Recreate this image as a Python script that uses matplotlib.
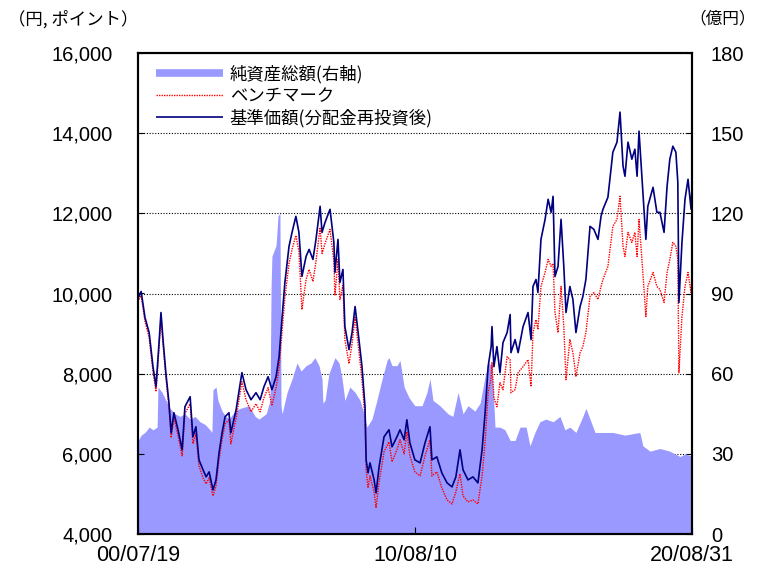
import matplotlib
matplotlib.use('Agg')
import matplotlib.pyplot as plt
from matplotlib.lines import Line2D
from matplotlib.ticker import FuncFormatter
import datetime as dt

plt.rcParams['font.family'] = ['Liberation Sans', 'Noto Sans CJK JP']

# ---------------- data ----------------
# time points as fractional years
line_t = [2000.58, 2000.66, 2000.80, 2000.95, 2001.09, 2001.20, 2001.31, 2001.38, 2001.46, 2001.56,
          2001.67, 2001.75, 2001.85, 2002.00, 2002.15, 2002.25, 2002.44, 2002.54, 2002.65, 2002.76,
          2002.91, 2003.02, 2003.13, 2003.27, 2003.38, 2003.49, 2003.60, 2003.71, 2003.85, 2003.92,
          2004.11, 2004.32, 2004.47, 2004.65, 2004.83, 2004.98, 2005.12, 2005.27, 2005.41, 2005.56,
          2005.67, 2005.78, 2005.88, 2006.03, 2006.14, 2006.28, 2006.39, 2006.50, 2006.65, 2006.76,
          2006.90, 2007.01, 2007.16, 2007.23, 2007.34, 2007.52, 2007.66, 2007.70, 2007.81, 2007.88,
          2007.99, 2008.06, 2008.21, 2008.32, 2008.43, 2008.57, 2008.68, 2008.79, 2008.83, 2008.90,
          2008.97, 2009.12, 2009.19, 2009.30, 2009.48, 2009.66, 2009.77, 2009.95, 2010.06, 2010.21,
          2010.31, 2010.42, 2010.60, 2010.79, 2010.97, 2011.15, 2011.22, 2011.40, 2011.58, 2011.77,
          2011.95, 2012.09, 2012.24, 2012.35, 2012.53, 2012.71, 2012.89, 2013.04, 2013.15, 2013.26,
          2013.37, 2013.40, 2013.47, 2013.58, 2013.69, 2013.80, 2013.95, 2014.06, 2014.09, 2014.24,
          2014.35, 2014.53, 2014.71, 2014.82, 2014.89, 2015.00, 2015.07, 2015.18, 2015.33, 2015.44,
          2015.55, 2015.62, 2015.69, 2015.80, 2015.91, 2016.01, 2016.09, 2016.23, 2016.34, 2016.45,
          2016.60, 2016.70, 2016.81, 2016.96, 2017.10, 2017.25, 2017.36, 2017.43, 2017.61, 2017.79,
          2017.94, 2018.05, 2018.16, 2018.23, 2018.34, 2018.48, 2018.59, 2018.67, 2018.74, 2018.88,
          2018.99, 2019.06, 2019.25, 2019.39, 2019.50, 2019.65, 2019.76, 2019.86, 2019.97, 2020.08,
          2020.15, 2020.19, 2020.30, 2020.41, 2020.52, 2020.63, 2020.66]

nav = [9925, 10050, 9400, 9025, 8175, 7675, 8775, 9525, 8800, 8000,
       7275, 6525, 7025, 6600, 6100, 7175, 7425, 6425, 6675, 5850,
       5600, 5425, 5550, 5100, 5350, 6025, 6525, 6925, 7025, 6525,
       7100, 8025, 7600, 7350, 7525, 7350, 7675, 7925, 7600, 7925,
       8425, 9425, 10275, 11175, 11525, 11925, 11525, 10425, 10925, 11100,
       10850, 11350, 12175, 11525, 11775, 12100, 11275, 10525, 11350, 10275,
       10600, 9175, 8600, 9025, 9675, 8850, 8175, 7175, 5850, 5525,
       5775, 5350, 5025, 5675, 6425, 6600, 6175, 6425, 6600, 6350,
       6850, 6275, 5850, 5775, 6275, 6675, 5850, 5925, 5525, 5275,
       5175, 5425, 6100, 5600, 5350, 5425, 5275, 6100, 7025, 8175,
       8675, 9175, 8175, 8675, 8025, 8775, 9025, 9475, 8525, 8850,
       8525, 9175, 9525, 8850, 10175, 10350, 10025, 11350, 11850, 12350,
       12025, 12425, 10425, 10675, 11850, 10675, 9525, 10175, 9850, 9025,
       9675, 9925, 10350, 11675, 11600, 11350, 11925, 12100, 12400, 13525,
       13775, 14525, 13175, 12925, 13775, 13350, 13600, 12925, 14050, 12525,
       11350, 12175, 12650, 12025, 12025, 11525, 12675, 13350, 13675, 13525,
       12775, 9775, 11275, 12350, 12850, 12100, 12600]

bench = [9850, 9950, 9300, 8900, 8050, 7550, 8650, 9400, 8700, 7900,
         7150, 6400, 6900, 6450, 5950, 7000, 7250, 6250, 6500, 5700,
         5400, 5250, 5400, 4950, 5200, 5850, 6350, 6750, 6850, 6250,
         6900, 7800, 7350, 7050, 7250, 7050, 7400, 7650, 7200, 7650,
         8150, 9050, 9900, 10750, 11100, 11450, 11050, 9600, 10350, 10600,
         10300, 10800, 11650, 11000, 11250, 11600, 10800, 9950, 10850, 9850,
         10200, 8850, 8250, 8750, 9400, 8550, 7850, 6900, 5600, 5150,
         5450, 5050, 4650, 5300, 6050, 6300, 5800, 6100, 6350, 6000,
         6550, 5950, 5550, 5450, 5950, 6350, 5450, 5550, 5150, 4850,
         4750, 5050, 5500, 4950, 4800, 4850, 4750, 5450, 6300, 7525,
         7900, 8275, 7400, 7175, 7775, 7600, 8425, 8350, 7525, 7600,
         8025, 8175, 8350, 7675, 9025, 9350, 9100, 10175, 10525, 10850,
         10675, 10750, 9525, 9025, 10175, 9175, 7850, 8850, 8525, 7925,
         8525, 8675, 9025, 9925, 10025, 9850, 10175, 10350, 10675, 11675,
         11850, 12425, 11175, 10925, 11525, 11275, 11525, 10925, 11850, 10525,
         9425, 10175, 10525, 10175, 10100, 9775, 10525, 10850, 11275, 11175,
         10850, 8025, 9425, 10175, 10525, 10025, 10350]

area_t = [2000.55, 2000.66, 2000.80, 2000.95, 2001.09, 2001.24, 2001.27, 2001.42, 2001.56, 2001.71,
          2001.89, 2002.07, 2002.25, 2002.44, 2002.62, 2002.80, 2002.98, 2003.16, 2003.23, 2003.27,
          2003.38, 2003.45, 2003.60, 2003.74, 2003.85, 2004.07, 2004.25, 2004.58, 2004.80, 2004.94,
          2005.20, 2005.34, 2005.38, 2005.41, 2005.56, 2005.63, 2005.70, 2005.74, 2005.78, 2005.96,
          2006.14, 2006.32, 2006.47, 2006.65, 2006.83, 2006.97, 2007.12, 2007.23, 2007.26, 2007.34,
          2007.48, 2007.70, 2007.85, 2007.96, 2008.06, 2008.24, 2008.43, 2008.61, 2008.75, 2008.86,
          2009.04, 2009.22, 2009.41, 2009.59, 2009.66, 2009.77, 2009.95, 2010.06, 2010.21, 2010.39,
          2010.60, 2010.86, 2011.04, 2011.15, 2011.26, 2011.51, 2011.80, 2011.98, 2012.17, 2012.35,
          2012.53, 2012.78, 2012.97, 2013.15, 2013.26, 2013.40, 2013.51, 2013.69, 2013.87, 2014.06,
          2014.24, 2014.42, 2014.64, 2014.78, 2014.96, 2015.14, 2015.36, 2015.62, 2015.87, 2016.05,
          2016.23, 2016.45, 2016.70, 2016.81, 2016.96, 2017.14, 2017.43, 2017.79, 2018.23, 2018.77,
          2018.88, 2019.14, 2019.50, 2019.86, 2020.23, 2020.44, 2020.66]

net_assets = [35, 37, 38, 40, 39, 40, 55, 53, 50, 47,
              45, 44, 45, 43, 44, 42, 41, 39, 38, 54,
              55, 50, 46, 44, 43, 46, 47, 48, 44, 43,
              45, 50, 93, 104, 108, 119, 120, 48, 45, 53,
              58, 64, 61, 63, 64, 66, 63, 58, 49, 50,
              60, 66, 64, 58, 50, 55, 53, 50, 45, 40,
              43, 50, 58, 65, 66, 63, 63, 65, 55, 51,
              48, 48, 53, 58, 50, 48, 45, 44, 53, 45,
              48, 46, 49, 59, 64, 63, 40, 40, 39, 35,
              35, 40, 40, 33, 38, 42, 43, 42, 44, 39,
              40, 38, 44, 47, 43, 38, 38, 38, 37, 38,
              33, 31, 32, 31, 29, 30, 29]

left_ticks = [4000, 6000, 8000, 10000, 12000, 14000, 16000]
right_ticks = [0, 30, 60, 90, 120, 150, 180]
x_tick_dates = ['2000-07-19', '2010-08-10', '2020-08-31']
x_tick_labels = ['00/07/19', '10/08/10', '20/08/31']
legend_labels = ['純資産総額(右軸)', 'ベンチマーク', '基準価額(分配金再投資後)']


def yr2date(y):
    year = int(y)
    frac = y - year
    start = dt.datetime(year, 1, 1)
    end = dt.datetime(year + 1, 1, 1)
    return start + (end - start) * frac


line_d = [yr2date(t) for t in line_t]
area_d = [yr2date(t) for t in area_t]
tick_d = [dt.datetime.strptime(s, '%Y-%m-%d') for s in x_tick_dates]

# ---------------- figure ----------------
W, H = 758, 569
fig = plt.figure(figsize=(W / 100, H / 100), dpi=100)
L, R, T, B = 138, 692, 53, 534
ax1 = fig.add_axes([L / W, 1 - B / H, (R - L) / W, (B - T) / H])
ax2 = ax1.twinx()
ax1.set_zorder(2)
ax2.set_zorder(1)
ax1.patch.set_visible(False)
ax2.patch.set_visible(True)
ax2.patch.set_facecolor('white')

area_color = '#9999FF'
ax2.fill_between(area_d, 0, net_assets, color=area_color, lw=0)
ax2.set_ylim(0, 180)
ax2.set_yticks(right_ticks)
ax2.set_axisbelow(True)
ax2.grid(axis='y', color='black', linestyle=(0, (1, 1.5)), lw=0.8)

ax1.plot(line_d, bench, color='#FF0000', linestyle=(0, (1, 0.8)), lw=1.0)
ax1.plot(line_d, nav, color='#000080', lw=1.2)
ax1.set_ylim(4000, 16000)
ax1.set_yticks(left_ticks)
ax1.yaxis.set_major_formatter(FuncFormatter(lambda v, p: f'{int(v):,}'))
ax1.set_xlim(tick_d[0], tick_d[-1])
ax1.set_xticks(tick_d)
ax1.set_xticklabels(x_tick_labels)

fs = 14.5
ax1.tick_params(axis='y', direction='in', length=4, pad=18.5, labelsize=fs)
ax1.tick_params(axis='x', direction='in', length=5, pad=8, labelsize=15.5)
ax2.tick_params(axis='y', direction='in', length=4, pad=13.5, labelsize=fs)
for ax in (ax1, ax2):
    for s in ax.spines.values():
        s.set_linewidth(1.5)
        s.set_color('black')

# axis unit labels
fig.text(8 / W, 1 - 19 / H, '（円, ポイント）', fontsize=12.5, va='center', ha='left',
         family=['Noto Sans CJK JP'])
fig.text(756 / W, 1 - 19 / H, '（億円）', fontsize=12, va='center', ha='right',
         family=['Noto Sans CJK JP'])

handles = [Line2D([], [], color=area_color, lw=5.5, solid_capstyle='butt'),
           Line2D([], [], color='#FF0000', linestyle=(0, (1, 0.8)), lw=1.0),
           Line2D([], [], color='#000080', lw=1.2, solid_capstyle='butt')]
leg = ax1.legend(handles, legend_labels, loc='upper left',
                 bbox_to_anchor=(156 / W, 1 - 65 / H), bbox_transform=fig.transFigure,
                 frameon=False, borderpad=0, borderaxespad=0, handlelength=3.85,
                 handletextpad=0.4, labelspacing=0.2,
                 prop={'family': ['Noto Sans CJK JP'], 'size': 12.5})

fig.savefig('out.png', dpi=100)
